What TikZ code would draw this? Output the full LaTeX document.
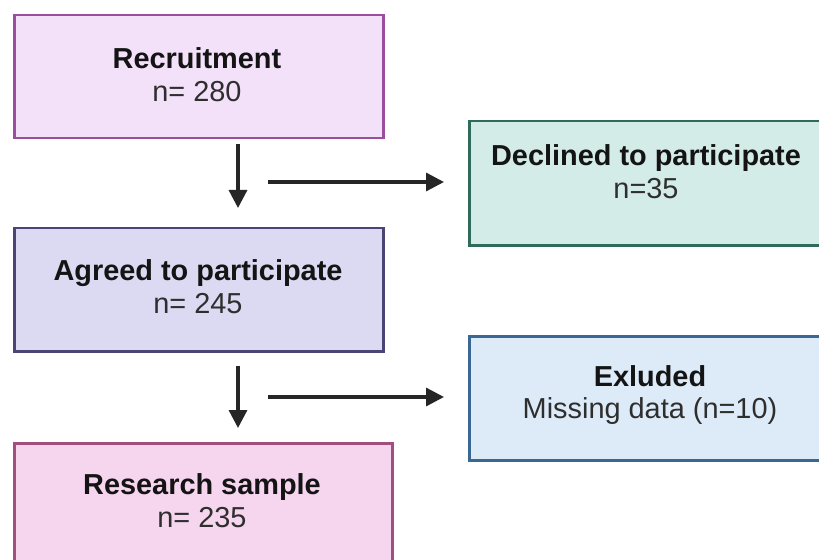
\documentclass[tikz,border=0pt]{standalone}
\usepackage{fontspec}
\setmainfont{Liberation Sans}
\usetikzlibrary{arrows.meta}
\definecolor{recfill}{HTML}{F3E0F9}
\definecolor{recdraw}{HTML}{9A4E9E}
\definecolor{agrfill}{HTML}{DCDAF2}
\definecolor{agrdraw}{HTML}{4B4475}
\definecolor{resfill}{HTML}{F6D5EE}
\definecolor{resdraw}{HTML}{A14F7E}
\definecolor{decfill}{HTML}{D3ECE8}
\definecolor{decdraw}{HTML}{2E6B5B}
\definecolor{excfill}{HTML}{DDEBF9}
\definecolor{excdraw}{HTML}{3B6893}
\definecolor{txtdark}{HTML}{141414}
\definecolor{txtreg}{HTML}{2E2E2E}
\begin{document}
\begin{tikzpicture}[x=1bp,y=-1bp,
  boxstyle/.style={draw, line width=2.5bp, rectangle, inner sep=0pt, anchor=north west},
  txtstyle/.style={align=center, inner sep=0pt, font=\fontsize{29}{33}\selectfont, text=txtreg},
  arrowstyle/.style={line width=3.3bp, draw=black!85, -{Triangle[length=18bp,width=18bp]}}]
\useasboundingbox (0,0) rectangle (819,560);
\fill[white] (0,0) rectangle (819,560);
% boxes
\node[boxstyle, fill=recfill, draw=recdraw, minimum width=369bp, minimum height=123bp] (rec) at (13,14) {};
\node[boxstyle, fill=agrfill, draw=agrdraw, minimum width=369bp, minimum height=123bp] (agr) at (13,227) {};
\node[boxstyle, fill=resfill, draw=resdraw, minimum width=378bp, minimum height=140bp] (res) at (13,442) {};
\node[boxstyle, fill=decfill, draw=decdraw, minimum width=380bp, minimum height=124bp] (dec) at (468,120) {};
\node[boxstyle, fill=excfill, draw=excdraw, minimum width=380bp, minimum height=124bp] (exc) at (468,335) {};
% texts
\node[txtstyle] (rectxt) at (197,75) {\textbf{\color{txtdark}Recruitment}\\n= 280};
\node[txtstyle] (agrtxt) at (198,287) {\textbf{\color{txtdark}Agreed to participate}\\n= 245};
\node[txtstyle] (restxt) at (202,501) {\textbf{\color{txtdark}Research sample}\\n= 235};
\node[txtstyle] (dectxt) at (646,172) {\textbf{\color{txtdark}Declined to participate}\\n=35};
\node[txtstyle] (exctxt) at (650,395) {\textbf{\color{txtdark}Exluded}\\Missing data (n=10)};
% connectors
\coordinate (h1) at (268,182);
\coordinate (h2) at (268,397);
\draw[arrowstyle, shorten <=5bp, shorten >=19bp] (rec.south -| 238,0) -- (agr.north -| 238,0);
\draw[arrowstyle, shorten <=13bp, shorten >=14bp] (agr.south -| 238,0) -- (res.north -| 238,0);
\draw[arrowstyle, shorten >=24bp] (h1) -- (h1 -| dec.west);
\draw[arrowstyle, shorten >=24bp] (h2) -- (h2 -| exc.west);
\end{tikzpicture}
\end{document}
